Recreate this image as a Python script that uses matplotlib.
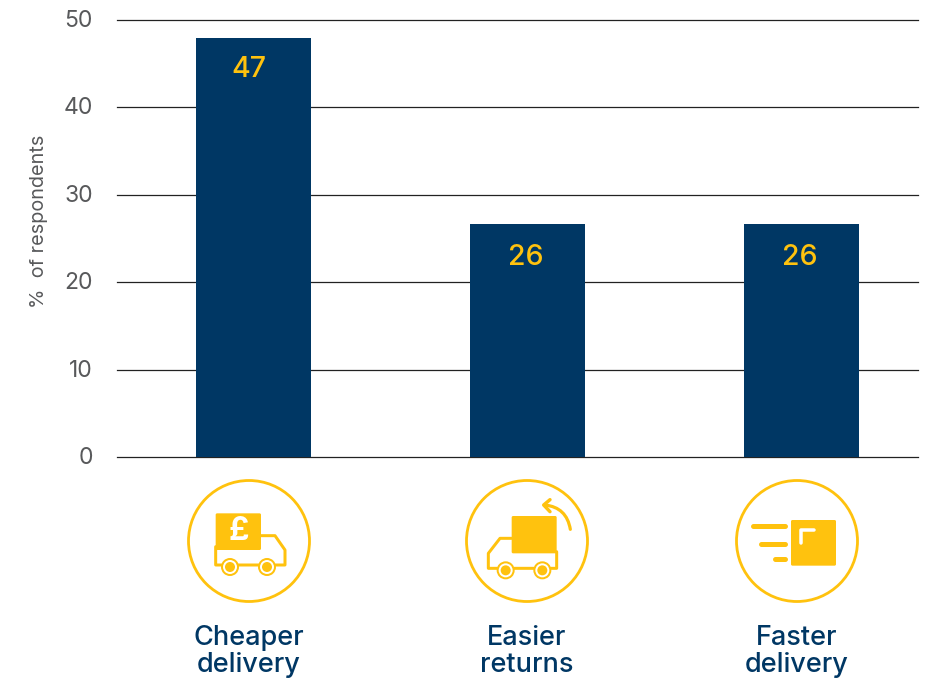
import matplotlib as mpl
mpl.use('Agg')
import matplotlib.pyplot as plt
from matplotlib.patches import Circle, FancyBboxPatch, PathPatch
from matplotlib.path import Path
from matplotlib.transforms import ScaledTranslation

plt.rcParams['font.family'] = ['Inter', 'DejaVu Sans']

# Data (bars are drawn a bit taller than their labels)
categories = ['Cheaper\ndelivery', 'Easier\nreturns', 'Faster\ndelivery']
bar_heights = [47.9, 26.7, 26.7]
bar_labels = ['47', '26', '26']
y_ticks = [0, 10, 20, 30, 40, 50]

NAVY = '#003764'
YELLOW = '#FFC20E'
GREY = '#58595B'

W, H = 931, 679
fig = plt.figure(figsize=(W / 100, H / 100), dpi=100)

# Main axes, placed in pixels
left, right, top, bottom = 117, 917.5, 20, 457
ax = fig.add_axes([left / W, 1 - bottom / H, (right - left) / W, (bottom - top) / H])
ax.set_xlim(-0.498, 2.425)
ax.set_ylim(0, 50)

for direction in ['top', 'right', 'left', 'bottom']:
    ax.spines[direction].set_visible(False)

ax.set_xticks([])
ax.set_yticks(y_ticks)
ax.tick_params(axis='y', length=0, pad=17.5, labelsize=16.5, labelcolor=GREY)
ax.set_axisbelow(True)
ax.grid(axis='y', color='#222222', linewidth=0.9)
up = ScaledTranslation(0, 1.5 / 100, fig.dpi_scale_trans)
for lbl in ax.get_yticklabels():
    lbl.set_transform(lbl.get_transform() + up)
for ln in ax.get_ygridlines():
    ln.set_clip_on(False)

# label nudges in pixels, the originals are not quite centred
nudge_x = [-4.5, -1.5, -1.5]
nudge_y = [-31.5, -33.5, -33.5]

xs = range(len(categories))
ax.bar(xs, bar_heights, width=0.42, color=NAVY, zorder=3)
for x, h, lab, dx, dy in zip(xs, bar_heights, bar_labels, nudge_x, nudge_y):
    ax.annotate(lab, xy=(x, h), xytext=(dx, dy), textcoords='offset pixels',
                ha='center', va='center', color=YELLOW, fontsize=20.5, fontweight=500, zorder=4)

ax.set_ylabel('%  of respondents', fontsize=14.3, color=GREY)
ax.yaxis.set_label_coords(48 / W, 1 - 221 / H, transform=fig.transFigure)

# Overlay in pixel coordinates for the icons and category names
ov = fig.add_axes([0, 0, 1, 1])
ov.set_xlim(0, W)
ov.set_ylim(H, 0)
ov.axis('off')
ov.patch.set_alpha(0)

LW = 0.72  # points per pixel


def line(pts, ox, oy, px=2.0, color=YELLOW):
    # pts are in 3x zoom units relative to the icon crop
    ov.plot([ox + p[0] / 3 for p in pts], [oy + p[1] / 3 for p in pts], color=color,
            linewidth=px * LW, solid_capstyle='round', solid_joinstyle='round')


def box(x0, y0, x1, y1, ox, oy):
    ov.add_patch(FancyBboxPatch((ox + x0 / 3 + 1.5, oy + y0 / 3 + 1.5),
                                (x1 - x0) / 3 - 3, (y1 - y0) / 3 - 3,
                                boxstyle='round,pad=1.5', color=YELLOW, linewidth=0, zorder=3))


def wheel(x, y, ox, oy):
    ov.add_patch(Circle((ox + x / 3, oy + y / 3), 8, facecolor='white',
                        edgecolor=YELLOW, linewidth=2 * LW, zorder=4))
    ov.add_patch(Circle((ox + x / 3, oy + y / 3), 5, color=YELLOW, linewidth=0, zorder=5))


icon_cx = [249, 527, 797]
for cx in icon_cx:
    ov.add_patch(Circle((cx, 541), 60.5, fill=False, edgecolor=YELLOW, linewidth=2.8 * LW))

# Cheaper delivery: truck with a pound sign
ox, oy = 170, 470
line([(273, 197), (315, 197), (345, 240), (345, 285), (137, 285), (137, 230)], ox, oy, 3)
box(137, 130, 273, 240, ox, oy)
wheel(180, 291, ox, oy)
wheel(291, 291, ox, oy)
ov.text(ox + 205 / 3, oy + 186 / 3, '£', color='white', fontsize=23, fontweight='bold',
        ha='center', va='center', zorder=4)

# Easier returns: truck with a return arrow
ox, oy = 450, 470
line([(185, 205), (150, 205), (115, 250), (115, 295), (320, 295), (320, 245)], ox, oy, 3)
box(185, 138, 320, 250, ox, oy)
wheel(167, 301, ox, oy)
wheel(277, 301, ox, oy)
arc = Path([(ox + 361 / 3, oy + 178 / 3), (ox + 350 / 3, oy + 112 / 3), (ox + 285 / 3, oy + 105 / 3)],
           [Path.MOVETO, Path.CURVE3, Path.CURVE3])
ov.add_patch(PathPatch(arc, fill=False, edgecolor=YELLOW, linewidth=3.2 * LW, capstyle='round'))
line([(300, 89), (281, 105), (300, 125)], ox, oy, 3.4)

# Faster delivery: parcel with speed lines
ox, oy = 720, 470
line([(98, 169), (195, 169)], ox, oy, 5)
line([(123, 221), (195, 221)], ox, oy, 5)
line([(164, 268), (195, 268)], ox, oy, 5)
box(213, 150, 348, 287, ox, oy)
ov.plot([ox + 242 / 3, ox + 242 / 3, ox + 283 / 3], [oy + 220 / 3, oy + 180 / 3, oy + 180 / 3],
        color='white', linewidth=3.5 * LW, solid_capstyle='round', zorder=5)

for cx, name in zip(icon_cx, categories):
    ov.text(cx, 651.5, name, color=NAVY, fontsize=19.5, fontweight=500, ha='center', va='center',
            linespacing=1.04)

fig.savefig('out.png', dpi=100)
plt.close()
